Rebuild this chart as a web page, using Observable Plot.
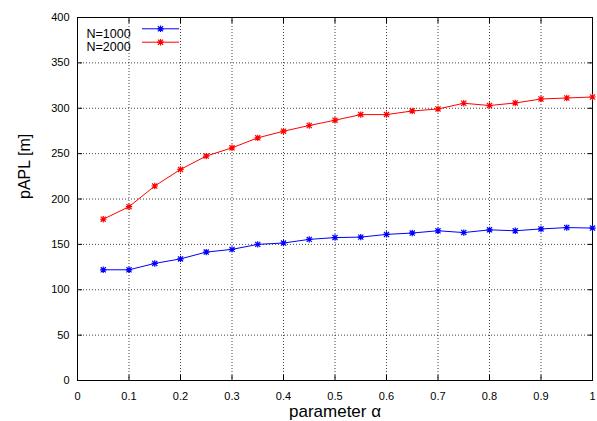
<!DOCTYPE html>
<html><head><meta charset="utf-8">
<script src="https://cdn.jsdelivr.net/npm/d3@7"></script>
<script src="https://cdn.jsdelivr.net/npm/@observablehq/plot@0.6"></script>
<style>
body{margin:0;background:#fff;}
#chart{width:597px;height:421px;}
svg{font-family:"Liberation Sans",Arial,Helvetica,sans-serif;}
</style></head><body><div id="chart"></div>
<script>
const alpha = [0.05,0.1,0.15,0.2,0.25,0.3,0.35,0.4,0.45,0.5,0.55,0.6,0.65,0.7,0.75,0.8,0.85,0.9,0.95,1.0];
const n1000 = [122,122,129,134,141.5,144.5,150,151.5,155.5,157.5,158,161,162.5,165,163,166,165,167,168.5,168];
const n2000 = [177.7,191.5,214.3,232.6,247.3,256.4,267.4,274.7,281,286.8,293,293,297,299.2,305.5,303,305.8,310.2,311.3,312.4];
const seriesNames = ["N=1000","N=2000"];
const seriesColors = ["#0000ff","#ff0000"];
const xTicks = [0,0.1,0.2,0.3,0.4,0.5,0.6,0.7,0.8,0.9,1];
const xTickLabels = ["0","0.1","0.2","0.3","0.4","0.5","0.6","0.7","0.8","0.9","1"];
const yTicks = [0,50,100,150,200,250,300,350,400];
const yTickLabels = ["0","50","100","150","200","250","300","350","400"];
const xTitle = "parameter \u03b1";
const yTitle = "pAPL [m]";

const rows = [];
[n1000, n2000].forEach((vals, s) => vals.forEach((v, i) => rows.push({alpha: alpha[i], value: v, series: seriesNames[s]})));
const legendRows = seriesNames.map((name) => ({series: name}));

const star = {draw(ctx, size){
  const r = Math.sqrt(size/Math.PI), d = r*0.8;
  ctx.moveTo(-r,0); ctx.lineTo(r,0); ctx.moveTo(0,-r); ctx.lineTo(0,r);
  ctx.moveTo(-d,-d); ctx.lineTo(d,d); ctx.moveTo(-d,d); ctx.lineTo(d,-d);
}};
const legendLine = {draw(ctx, size){ ctx.moveTo(-18.5,0); ctx.lineTo(18.5,0); }};

const legendMarks = legendRows.flatMap((row, i) => [
  Plot.text([row], {frameAnchor:"top-left", dx:9, dy:11.3 + i*13.4, text:"series", textAnchor:"start", fontSize:12.5, fill:"#000"}),
  Plot.dot([row], {frameAnchor:"top-left", dx:83, dy:11.3 + i*13.4, symbol:legendLine, stroke:"series", fill:"none", strokeWidth:1}),
  Plot.dot([row], {frameAnchor:"top-left", dx:83, dy:11.3 + i*13.4, symbol:star, r:3.2, stroke:"series", fill:"none", strokeWidth:1.2})
]);

const chart = Plot.plot({
  width: 597, height: 421,
  marginLeft: 77, marginRight: 5, marginTop: 17, marginBottom: 41,
  style: {fontSize: "11px", fontFamily: "'Liberation Sans', Arial, sans-serif", background: "#fff", color: "#000"},
  x: {domain: [0, 1], axis: null},
  y: {domain: [0, 400], axis: null},
  color: {domain: seriesNames, range: seriesColors},
  marks: [
    Plot.gridX(xTicks.slice(1, -1), {stroke: "#000", strokeOpacity: 0.75, strokeDasharray: "1,2"}),
    Plot.gridY(yTicks.slice(1, -1), {stroke: "#000", strokeOpacity: 0.75, strokeDasharray: "1,2"}),
    Plot.axisX({ticks: xTicks, anchor: "bottom", tickSize: -5, tickPadding: 17, tickFormat: d => xTickLabels[xTicks.indexOf(d)], label: null}),
    Plot.axisX({ticks: xTicks, anchor: "top", tickSize: -5, tickFormat: () => "", label: null}),
    Plot.axisY({ticks: yTicks, anchor: "left", tickSize: -5, tickPadding: 13, tickFormat: d => yTickLabels[yTicks.indexOf(d)], label: null}),
    Plot.axisY({ticks: yTicks, anchor: "right", tickSize: -5, tickFormat: () => "", label: null}),
    Plot.frame({stroke: "#000", strokeWidth: 1}),
    Plot.line(rows, {x: "alpha", y: "value", z: "series", stroke: "series", strokeWidth: 1}),
    Plot.dot(rows, {x: "alpha", y: "value", stroke: "series", symbol: star, r: 3.2, fill: "none", strokeWidth: 1.2}),
    ...legendMarks,
    Plot.text([yTitle], {frameAnchor: "left", dx: -53, rotate: -90, text: d => d, fontSize: 16, fill: "#000", style: "letter-spacing:1px"}),
    Plot.text([xTitle], {frameAnchor: "bottom", dy: 31, text: d => d, fontSize: 17, fill: "#000", lineAnchor: "middle", style: "letter-spacing:0.8px"})
  ]
});
document.getElementById("chart").appendChild(chart);
</script>
</body></html>
